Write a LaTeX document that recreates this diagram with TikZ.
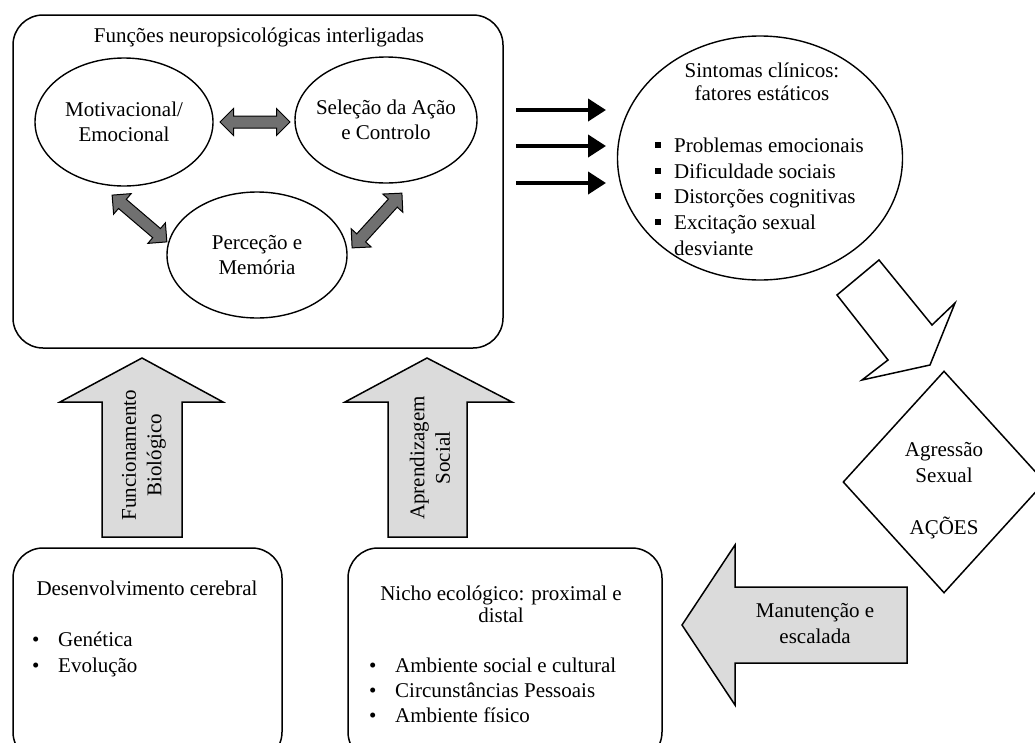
\documentclass[tikz,border=0pt]{standalone}
\usepackage{fontspec}
\setmainfont{Liberation Serif}
\usetikzlibrary{shapes.geometric,shapes.arrows,arrows.meta}
\definecolor{darkarrow}{gray}{0.44}
\definecolor{lightarrow}{gray}{0.86}
\newcommand{\sqbullet}{\makebox[19pt][l]{\rule[4pt]{6pt}{6pt}}}

\begin{document}
\begin{tikzpicture}[x=1pt,y=-1pt,font=\fontsize{21}{25.5}\selectfont]
	 \tikzstyle{box}=[draw,line width=1.5pt,rounded corners=30pt]
	 \tikzstyle{oval}=[ellipse,draw,line width=1.4pt,inner sep=0pt]
	 \tikzstyle{dbl}=[double arrow,draw,line width=1pt,fill=darkarrow,double arrow head extend=7.5pt,inner sep=5.5pt]
	 \tikzstyle{block}=[draw,line width=1.5pt,fill=lightarrow,line join=miter]
	 \tikzstyle{txt}=[anchor=base,inner sep=0pt]
	 \tikzstyle{item}=[anchor=base west,inner sep=0pt]
	 \tikzstyle{push}=[line width=4pt,-{Triangle[length=18pt,width=22pt]}]
	 \useasboundingbox (0,0) rectangle (1035,742);
	 \clip (0,0) rectangle (1035,742);
	 % funcoes neuropsicologicas
	 \node[box,minimum width=490pt,minimum height=333pt] (funcoes) at (258,181.5) {};
	 \node[txt] (titulo) at (259,42) {Funções neuropsicológicas interligadas};
	 \node[oval,minimum width=178pt,minimum height=128pt] (motiv) at (124,122) {};
	 \node[oval,minimum width=182pt,minimum height=126pt] (selecao) at (386,120) {};
	 \node[oval,minimum width=180pt,minimum height=126pt] (percecao) at (257,255) {};
	 \node[align=center] (motivtxt) at (motiv) {Motivacional/\\Emocional};
	 \node[align=center] (selecaotxt) at (selecao) {Seleção da Ação\\e Controlo};
	 \node[align=center] (percecaotxt) at (percecao) {Perceção e\\Memória};
	 \node[dbl,minimum height=70pt] (ms) at (255,122) {};
	 \node[dbl,minimum height=72pt,rotate=-40.5] (mp) at (139.5,218.5) {};
	 \node[dbl,minimum height=74pt,rotate=47.7] (sp) at (377,220.5) {};
	 % sintomas
	 \foreach \y [count=\i] in {110,146,183} {
		 \coordinate (from\i) at (516,\y);
		 \coordinate (to\i) at (606,\y);
		 \draw[push] (from\i) -- (to\i);
	 }
	 \node[oval,minimum width=285pt,minimum height=244pt] (sintomas) at (760,158) {};
	 \node[txt] (sint1) at (762,77) {Sintomas clínicos:};
	 \node[txt] (sint2) at (762,100) {fatores estáticos};
	 \node[item] (p1) at (655,152) {\sqbullet Problemas emocionais};
	 \node[item] (p2) at (655,178) {\sqbullet Dificuldade sociais};
	 \node[item] (p3) at (655,203) {\sqbullet Distorções cognitivas};
	 \node[item] (p4) at (655,229) {\sqbullet Excitação sexual};
	 \node[item] (p5) at (674,255) {desviante};
	 \draw[line width=1.5pt,line join=miter] (879,260) -- (932,325) -- (955,303) -- (930,365)
		 -- (862,380) -- (888,360) -- (837,295) -- cycle;
	 % acoes
	 \node[diamond,draw,line width=1.5pt,minimum width=202pt,minimum height=222pt,inner sep=0pt] (agressao) at (944,482) {};
	 \node[txt] (agr1) at (944,456) {Agressão};
	 \node[txt] (agr2) at (944,482) {Sexual};
	 \node[txt] (agr3) at (944,534) {AÇÕES};
	 \draw[block] (907,587) -- (735,587) -- (735,545) -- (682,625) -- (735,705) -- (735,663) -- (907,663) -- cycle;
	 \node[txt] (man1) at (815,617) {Manutenção e};
	 \node[txt] (man2) at (815,643) {escalada};
	 % desenvolvimento e nicho
	 \node[box,minimum width=269pt,minimum height=214pt] (desenv) at (147.5,655) {};
	 \node[txt] (desenv0) at (147,595) {Desenvolvimento cerebral};
	 \node[item] (d1) at (32,646) {\makebox[26pt][l]{\textbullet}Genética};
	 \node[item] (d2) at (32,672) {\makebox[26pt][l]{\textbullet}Evolução};
	 \node[box,minimum width=314pt,minimum height=214pt] (nicho) at (505,655) {};
	 \node[txt] (nicho0) at (501,600) {Nicho ecológico: proximal e};
	 \node[txt] (nicho00) at (501,622) {distal};
	 \node[item] (n1) at (369,672) {\makebox[26pt][l]{\textbullet}Ambiente social e cultural};
	 \node[item] (n2) at (369,697) {\makebox[26pt][l]{\textbullet}Circunstâncias Pessoais};
	 \node[item] (n3) at (369,722) {\makebox[26pt][l]{\textbullet}Ambiente físico};
	 \draw[block] (102,537) -- (102,402) -- (60,402) -- (142,358) -- (223,402) -- (182,402) -- (182,537) -- cycle;
	 \draw[block] (388,537) -- (388,402) -- (345,402) -- (427,358) -- (512,402) -- (467,402) -- (467,537) -- cycle;
	 \node[align=center,rotate=90] (bio) at (144,455) {Funcionamento\\Biológico};
	 \node[align=center,rotate=90] (social) at (430,458) {Aprendizagem\\Social};
\end{tikzpicture}
\end{document}
